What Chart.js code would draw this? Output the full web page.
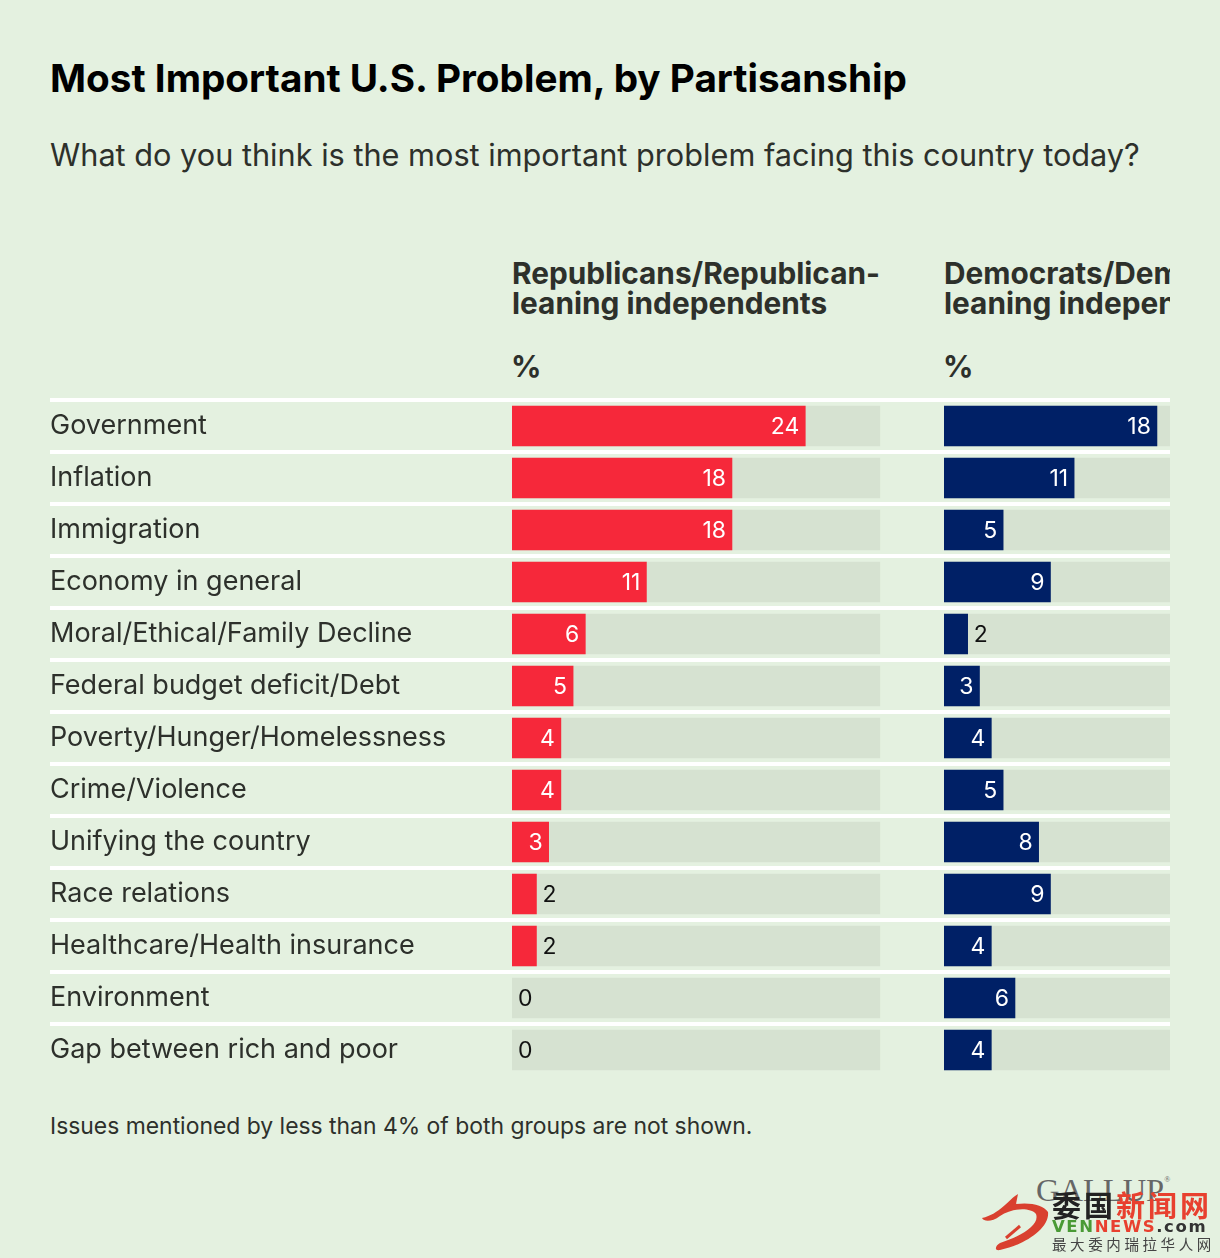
<!DOCTYPE html>
<html>
<head>
<meta charset="utf-8">
<script src="https://cdn.jsdelivr.net/npm/chart.js@4"></script>
<style>
  html, body { margin: 0; padding: 0; }
  body { position: relative; width: 1220px; height: 1258px; background: #e4f1e0; overflow: hidden; font-family: Inter, sans-serif; color: #2d302b; }
  .txt { position: absolute; white-space: nowrap; }
  #title { left: 50px; top: 55px; font-size: 38.7px; font-weight: 700; line-height: 46px; color: #000; }
  #subtitle { left: 50px; top: 135px; font-size: 30.7px; line-height: 40px; }
  .head { top: 258px; font-size: 29.8px; font-weight: 700; line-height: 30px; padding-bottom: 8px; overflow: hidden; }
  .pct { top: 350px; font-size: 30px; font-weight: 700; line-height: 32px; margin-left: -1px; }
  #note { left: 50px; top: 1112px; font-size: 22.9px; line-height: 28px; }
  #gallup { left: 1036px; top: 1168px; font-family: "Liberation Serif", serif; font-size: 32.5px; color: #666; line-height: 44px; }
  #gallup sup { font-size: 8px; line-height: 0; vertical-align: 19px; }
  canvas { position: absolute; top: 380px; }
  #wm1, #wm2 { font-weight: 700; }
  #wm1 { left: 1052px; top: 1185px; font-family: "Noto Sans CJK SC"; font-size: 29px; line-height: 38px; letter-spacing: 3px; color: #222; }
  #wm1 span { color: #e8402f; }
  #wm2 { left: 1052px; top: 1218px; font-family: "DejaVu Sans"; font-size: 16.5px; line-height: 18px; letter-spacing: 1.6px; }
  #wm3 { left: 1052px; top: 1235px; font-family: "Noto Sans CJK SC"; font-size: 14.5px; line-height: 18px; letter-spacing: 3.6px; color: #444; }
  #dragon { position: absolute; left: 0; top: 0; }
</style>
</head>
<body>
<div class="txt" id="title">Most Important U.S. Problem, by Partisanship</div>
<div class="txt" id="subtitle">What do you think is the most important problem facing this country today?</div>
<div class="txt head" style="left:512px;width:368px">Republicans/Republican-<br>leaning independents</div>
<div class="txt head" style="left:944px;width:226px">Democrats/Democratic-<br>leaning independents</div>
<div class="txt pct" style="left:512px">%</div>
<div class="txt pct" style="left:944px">%</div>
<canvas id="repChart" width="944" height="720" style="left:0"></canvas>
<canvas id="demChart" width="226" height="720" style="left:944px"></canvas>
<div class="txt" id="note">Issues mentioned by less than 4% of both groups are not shown.</div>
<div class="txt" id="gallup">GALLUP<sup>®</sup></div>
<svg id="dragon" width="1220" height="1258">
  <path fill="#d9402f" d="M982 1218 C1000 1214 1008 1200 1018 1194 L1016 1204 C1030 1202 1044 1205 1048 1212 C1050 1228 1025 1245 1000 1250 C994 1251 995 1246 1000 1243 C1022 1236 1040 1225 1036 1214 C1030 1207 1012 1208 1000 1216 C992 1222 984 1222 982 1218 Z"/>
  <path fill="none" stroke="#d9402f" stroke-width="3" d="M1006 1238 L1020 1226"/>
</svg>
<div class="txt" id="wm1">委国<span>新闻网</span></div>
<div class="txt" id="wm2"><span style="color:#4a9a35">VEN</span><span style="color:#e8402f">NEWS</span><span style="color:#333">.com</span></div>
<div class="txt" id="wm3">最大委内瑞拉华人网</div>
<script>
const categories = ['Government', 'Inflation', 'Immigration', 'Economy in general', 'Moral/Ethical/Family Decline',
    'Federal budget deficit/Debt', 'Poverty/Hunger/Homelessness', 'Crime/Violence', 'Unifying the country',
    'Race relations', 'Healthcare/Health insurance', 'Environment', 'Gap between rich and poor'];
const republicans = [24, 18, 18, 11, 6, 5, 4, 4, 3, 2, 2, 0, 0];
const democrats = [18, 11, 5, 9, 2, 3, 4, 5, 8, 9, 4, 6, 4];
const trackValues = categories.map(() => 30.1);

const BG_TRACK = '#d6e2d1';
const RED = '#f6283a';
const NAVY = '#002066';
const LABEL_FONT = '23px Inter, sans-serif';

// value labels: white inside the bar, black just past the end for small ones
const valueLabels = {
    id: 'valueLabels',
    afterDatasetsDraw(chart) {
        const ctx = chart.ctx;
        const meta = chart.getDatasetMeta(1);
        const values = chart.data.datasets[1].data;
        ctx.save();
        ctx.font = LABEL_FONT;
        ctx.textBaseline = 'middle';
        meta.data.forEach((bar, i) => {
            const inside = values[i] >= 3;
            ctx.fillStyle = inside ? '#fff' : '#111';
            ctx.textAlign = inside ? 'right' : 'left';
            ctx.fillText(values[i], bar.x + (inside ? -6 : 6), bar.y + 1);
        });
        ctx.restore();
    }
};

function whiteRule(ctx) {
    return ctx.type === 'tick' ? '#ffffff' : 'rgba(0,0,0,0)';
}

function makeChart(id, values, color, xMax, showLabels) {
    return new Chart(document.getElementById(id), {
        type: 'bar',
        plugins: [valueLabels],
        data: {
            labels: categories,
            datasets: [
                { data: trackValues, backgroundColor: BG_TRACK, grouped: false, barThickness: 40, order: 2 },
                {
                    data: values,
                    // a zero bar would otherwise leave a hairline on the axis
                    backgroundColor: (ctx) => ctx.raw === 0 ? 'rgba(0,0,0,0)' : color,
                    grouped: false,
                    barThickness: 40,
                    order: 1
                }
            ]
        },
        options: {
            indexAxis: 'y',
            responsive: false,
            animation: false,
            events: [],
            layout: { padding: { left: showLabels ? 50 : 0, top: 20, bottom: 24, right: 0 } },
            plugins: { legend: { display: false }, tooltip: { enabled: false } },
            scales: {
                x: { display: false, min: 0, max: xMax },
                y: {
                    border: { display: false },
                    afterFit(scale) { scale.width = showLabels ? 462 : 0; },
                    grid: {
                        color: whiteRule,
                        lineWidth: 4,
                        drawTicks: showLabels,
                        tickLength: 462
                    },
                    ticks: {
                        display: showLabels,
                        crossAlign: 'far',
                        autoSkip: false,
                        color: '#2d302b',
                        font: { family: 'Inter, sans-serif', size: 27 }
                    }
                }
            }
        }
    });
}

// 12.22px per point on the left panel, 11.83px on the clipped right panel
makeChart('repChart', republicans, RED, 432 / 12.22, true);
makeChart('demChart', democrats, NAVY, 226 / 11.83, false);
</script>
</body>
</html>
